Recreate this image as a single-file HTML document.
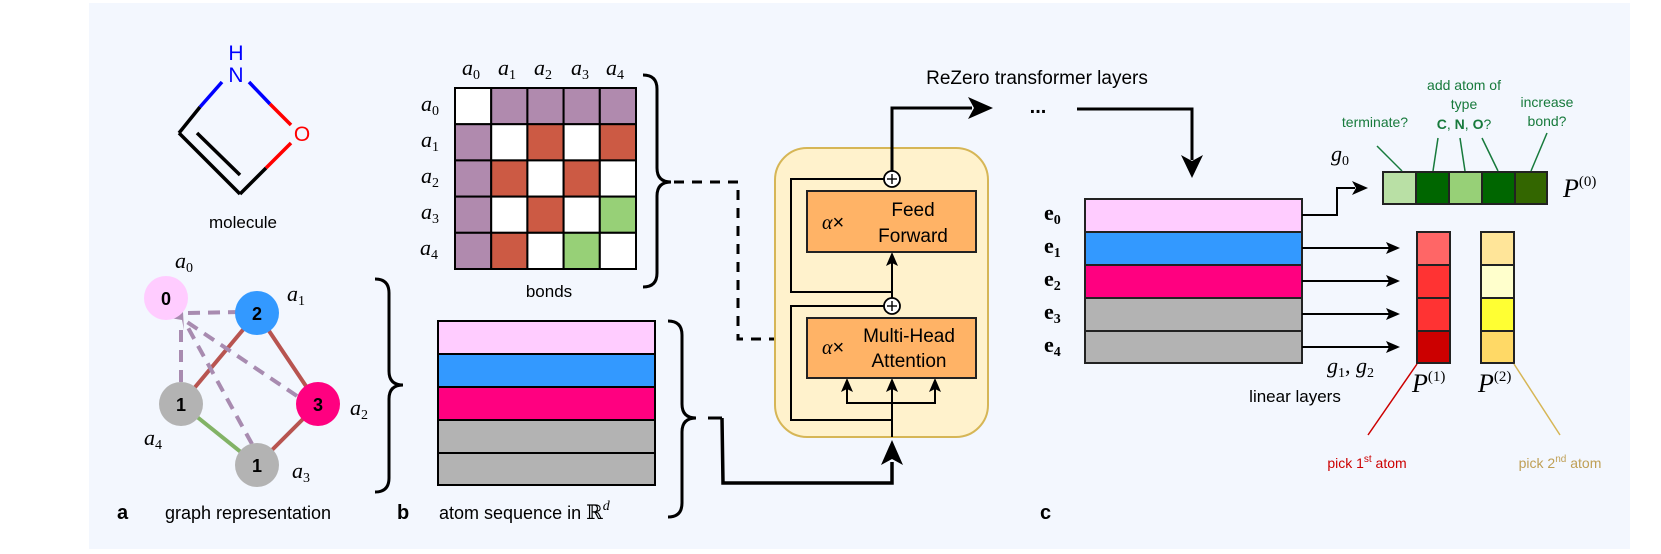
<!DOCTYPE html>
<html><head><meta charset="utf-8"><style>
html,body{margin:0;padding:0;background:#fff;}
svg{display:block;}
.s{font-family:"Liberation Sans",sans-serif;}
.m{font-family:"Liberation Serif",serif;font-style:italic;}
</style></head><body>
<svg width="1661" height="554" viewBox="0 0 1661 554" xmlns="http://www.w3.org/2000/svg">
<defs>
<marker id="ah" viewBox="0 0 10 10" refX="9" refY="5" markerWidth="7" markerHeight="7" orient="auto" markerUnits="userSpaceOnUse">
<path d="M0,0 L10,5 L0,10 L3,5 z" fill="#000"/></marker>
</defs>
<rect x="89" y="3" width="1541" height="546" fill="#f3f7fe"/>

<!-- molecule -->
<g stroke-width="3.5" fill="none" stroke-linecap="butt">
<line x1="222" y1="82" x2="200" y2="107" stroke="#0000ff"/>
<line x1="200" y1="107" x2="179" y2="133" stroke="#000"/>
<line x1="249" y1="82" x2="270" y2="104" stroke="#0000ff"/>
<line x1="270" y1="104" x2="291" y2="125" stroke="#ff0000"/>
<line x1="291" y1="143" x2="266" y2="168" stroke="#ff0000"/>
<line x1="266" y1="168" x2="240" y2="194" stroke="#000"/>
<line x1="179" y1="133" x2="240" y2="194" stroke="#000"/>
<line x1="197" y1="133" x2="240" y2="175" stroke="#000"/>
</g>
<text x="236" y="60" class="s" font-size="21" fill="#0000ff" text-anchor="middle">H</text>
<text x="236" y="82" class="s" font-size="21" fill="#0000ff" text-anchor="middle">N</text>
<text x="302" y="141" class="s" font-size="21" fill="#ff0000" text-anchor="middle">O</text>
<text x="243" y="228" class="s" font-size="17" text-anchor="middle">molecule</text>

<!-- graph -->
<g stroke-width="4" fill="none">
<line x1="257" y1="313" x2="181" y2="404" stroke="#b85450"/>
<line x1="257" y1="313" x2="318" y2="404" stroke="#b85450"/>
<line x1="318" y1="404" x2="257" y2="465" stroke="#b85450"/>
<line x1="181" y1="404" x2="257" y2="465" stroke="#82b366"/>
<g stroke="#a88bb0" stroke-dasharray="12 8">
<line x1="240" y1="312" x2="185" y2="313"/>
<line x1="297" y1="396" x2="187" y2="322"/>
<line x1="252" y1="444" x2="186" y2="324"/>
<line x1="181" y1="382" x2="181" y2="324"/>
</g>
<path d="M170,318 L183,312 L184,330 L182,320 z" fill="#a88bb0" stroke="none"/>
</g>
<circle cx="166" cy="298" r="22" fill="#ffccff"/>
<circle cx="257" cy="313" r="22" fill="#3399ff"/>
<circle cx="318" cy="404" r="22" fill="#ff0080"/>
<circle cx="181" cy="404" r="22" fill="#b3b3b3"/>
<circle cx="257" cy="465" r="22" fill="#b3b3b3"/>
<g class="s" font-size="18" font-weight="bold" text-anchor="middle">
<text x="166" y="305">0</text><text x="257" y="320">2</text><text x="318" y="411">3</text><text x="181" y="411">1</text><text x="257" y="472">1</text>
</g>
<g class="m" font-size="22">
<text x="175" y="268">a<tspan font-size="14" dy="4" font-style="normal">0</tspan></text>
<text x="287" y="301">a<tspan font-size="14" dy="4" font-style="normal">1</tspan></text>
<text x="350" y="415">a<tspan font-size="14" dy="4" font-style="normal">2</tspan></text>
<text x="292" y="478">a<tspan font-size="14" dy="4" font-style="normal">3</tspan></text>
<text x="144" y="445">a<tspan font-size="14" dy="4" font-style="normal">4</tspan></text>
</g>
<text x="117" y="519" class="s" font-size="20" font-weight="bold">a</text>
<text x="248" y="519" class="s" font-size="18" text-anchor="middle">graph representation</text>
<path d="M375,279 Q389,279 389,293 L389,371 Q389,385 403,385 Q389,385 389,399 L389,478 Q389,492 375,492" fill="none" stroke="#000" stroke-width="3"/>

<!-- matrix -->
<g stroke="#000" stroke-width="2">
<rect x="455" y="88" width="36.2" height="36.2" fill="#fff"/>
<rect x="491.2" y="88" width="36.2" height="36.2" fill="#b08aae"/>
<rect x="527.4" y="88" width="36.2" height="36.2" fill="#b08aae"/>
<rect x="563.6" y="88" width="36.2" height="36.2" fill="#b08aae"/>
<rect x="599.8" y="88" width="36.2" height="36.2" fill="#b08aae"/>
<rect x="455" y="124.2" width="36.2" height="36.2" fill="#b08aae"/>
<rect x="491.2" y="124.2" width="36.2" height="36.2" fill="#fff"/>
<rect x="527.4" y="124.2" width="36.2" height="36.2" fill="#cc5a44"/>
<rect x="563.6" y="124.2" width="36.2" height="36.2" fill="#fff"/>
<rect x="599.8" y="124.2" width="36.2" height="36.2" fill="#cc5a44"/>
<rect x="455" y="160.4" width="36.2" height="36.2" fill="#b08aae"/>
<rect x="491.2" y="160.4" width="36.2" height="36.2" fill="#cc5a44"/>
<rect x="527.4" y="160.4" width="36.2" height="36.2" fill="#fff"/>
<rect x="563.6" y="160.4" width="36.2" height="36.2" fill="#cc5a44"/>
<rect x="599.8" y="160.4" width="36.2" height="36.2" fill="#fff"/>
<rect x="455" y="196.6" width="36.2" height="36.2" fill="#b08aae"/>
<rect x="491.2" y="196.6" width="36.2" height="36.2" fill="#fff"/>
<rect x="527.4" y="196.6" width="36.2" height="36.2" fill="#cc5a44"/>
<rect x="563.6" y="196.6" width="36.2" height="36.2" fill="#fff"/>
<rect x="599.8" y="196.6" width="36.2" height="36.2" fill="#97d077"/>
<rect x="455" y="232.8" width="36.2" height="36.2" fill="#b08aae"/>
<rect x="491.2" y="232.8" width="36.2" height="36.2" fill="#cc5a44"/>
<rect x="527.4" y="232.8" width="36.2" height="36.2" fill="#fff"/>
<rect x="563.6" y="232.8" width="36.2" height="36.2" fill="#97d077"/>
<rect x="599.8" y="232.8" width="36.2" height="36.2" fill="#fff"/>
</g>
<g class="m" font-size="22">
<text x="462" y="75">a<tspan font-size="14" dy="4" font-style="normal">0</tspan></text>
<text x="498" y="75">a<tspan font-size="14" dy="4" font-style="normal">1</tspan></text>
<text x="534" y="75">a<tspan font-size="14" dy="4" font-style="normal">2</tspan></text>
<text x="571" y="75">a<tspan font-size="14" dy="4" font-style="normal">3</tspan></text>
<text x="606" y="75">a<tspan font-size="14" dy="4" font-style="normal">4</tspan></text>
<text x="421" y="111">a<tspan font-size="14" dy="4" font-style="normal">0</tspan></text>
<text x="421" y="147">a<tspan font-size="14" dy="4" font-style="normal">1</tspan></text>
<text x="421" y="183">a<tspan font-size="14" dy="4" font-style="normal">2</tspan></text>
<text x="421" y="219">a<tspan font-size="14" dy="4" font-style="normal">3</tspan></text>
<text x="420" y="255">a<tspan font-size="14" dy="4" font-style="normal">4</tspan></text>
</g>
<text x="549" y="297" class="s" font-size="17" text-anchor="middle">bonds</text>
<path d="M643,75 Q657,75 657,89 L657,168 Q657,182 671,182 Q657,182 657,196 L657,273 Q657,287 643,287" fill="none" stroke="#000" stroke-width="3"/>
<path d="M674,182 L738,182 L738,339 L790,339" fill="none" stroke="#000" stroke-width="3" stroke-dasharray="10 8"/>
<path d="M806,339 L786,329 L791,339 L786,349 z" fill="#000"/>

<!-- atom seq -->
<g stroke="#000" stroke-width="2">
<rect x="438" y="321" width="217" height="33" fill="#ffccff"/>
<rect x="438" y="354" width="217" height="33" fill="#3399ff"/>
<rect x="438" y="387" width="217" height="33" fill="#ff0080"/>
<rect x="438" y="420" width="217" height="33" fill="#b3b3b3"/>
<rect x="438" y="453" width="217" height="32" fill="#b3b3b3"/>
</g>
<text x="397" y="519" class="s" font-size="20" font-weight="bold">b</text>
<text x="439" y="519" class="s" font-size="18">atom sequence in <tspan font-family="DejaVu Serif" font-style="normal" font-size="20">ℝ</tspan><tspan class="m" font-family="Liberation Serif" font-style="italic" font-size="14" dy="-9">d</tspan></text>
<path d="M668,321 Q682,321 682,335 L682,404 Q682,418 696,418 Q682,418 682,432 L682,503 Q682,517 668,517" fill="none" stroke="#000" stroke-width="3"/>
<line x1="708" y1="418" x2="722" y2="418" stroke="#000" stroke-width="3"/>
<path d="M722,418 L723,483 L892,483 L892,462" fill="none" stroke="#000" stroke-width="3.5"/>
<path d="M892,440 L881,465 L892,459 L903,465 z" fill="#000"/>

<!-- transformer -->
<rect x="775" y="148" width="213" height="289" rx="32" fill="#fff2cc" stroke="#d6b656" stroke-width="2"/>
<g stroke="#000" stroke-width="2" fill="none">
<path d="M884,179 L791,179 L791,292 L892,292"/>
<path d="M884,306 L791,306 L791,420 L892,420"/>
<line x1="892" y1="437" x2="892" y2="386"/>
<path d="M847,386 L847,403 L935,403 L935,386"/>
<line x1="892" y1="298" x2="892" y2="260"/>
</g>
<g fill="#000">
<path d="M892,378 L886,392 L892,389 L898,392 z"/>
<path d="M847,378 L841,392 L847,389 L853,392 z"/>
<path d="M935,378 L929,392 L935,389 L941,392 z"/>
<path d="M892,252 L886,266 L892,263 L898,266 z"/>
</g>
<rect x="807" y="191" width="169" height="61" fill="#ffb366" stroke="#222" stroke-width="2"/>
<rect x="807" y="318" width="169" height="60" fill="#ffb366" stroke="#222" stroke-width="2"/>
<circle cx="892" cy="179" r="8" fill="#fff" stroke="#000" stroke-width="1.8"/>
<circle cx="892" cy="306" r="8" fill="#fff" stroke="#000" stroke-width="1.8"/>
<g stroke="#000" stroke-width="1.4"><line x1="887" y1="179" x2="897" y2="179"/><line x1="892" y1="174" x2="892" y2="184"/><line x1="887" y1="306" x2="897" y2="306"/><line x1="892" y1="301" x2="892" y2="311"/></g>
<text x="822" y="229" class="m" font-size="20">α<tspan font-style="normal" font-family="Liberation Sans">×</tspan></text>
<text x="913" y="216" class="s" font-size="19" text-anchor="middle">Feed</text>
<text x="913" y="242" class="s" font-size="19" text-anchor="middle">Forward</text>
<text x="822" y="354" class="m" font-size="20">α<tspan font-style="normal" font-family="Liberation Sans">×</tspan></text>
<text x="909" y="342" class="s" font-size="19" text-anchor="middle">Multi-Head</text>
<text x="909" y="367" class="s" font-size="19" text-anchor="middle">Attention</text>
<path d="M892,171 L892,108 L972,108" fill="none" stroke="#000" stroke-width="3"/>
<path d="M993,108 L968,97 L974,108 L968,119 z" fill="#000"/>
<text x="1038" y="113" class="s" font-size="20" font-weight="bold" text-anchor="middle">...</text>
<path d="M1077,109 L1192,109 L1192,160" fill="none" stroke="#000" stroke-width="3"/>
<path d="M1192,178 L1181,155 L1192,161 L1203,155 z" fill="#000"/>
<text x="1037" y="84" class="s" font-size="19" text-anchor="middle">ReZero transformer layers</text>

<!-- e stack -->
<g stroke="#222" stroke-width="2">
<rect x="1085" y="199" width="217" height="33" fill="#ffccff"/>
<rect x="1085" y="232" width="217" height="33" fill="#3399ff"/>
<rect x="1085" y="265" width="217" height="33" fill="#ff0080"/>
<rect x="1085" y="298" width="217" height="33" fill="#b3b3b3"/>
<rect x="1085" y="331" width="217" height="32" fill="#b3b3b3"/>
</g>
<g font-family="Liberation Serif" font-weight="bold" font-size="22">
<text x="1044" y="220">e<tspan font-size="14" dy="4">0</tspan></text>
<text x="1044" y="253">e<tspan font-size="14" dy="4">1</tspan></text>
<text x="1044" y="286">e<tspan font-size="14" dy="4">2</tspan></text>
<text x="1044" y="319">e<tspan font-size="14" dy="4">3</tspan></text>
<text x="1044" y="352">e<tspan font-size="14" dy="4">4</tspan></text>
</g>
<text x="1040" y="519" class="s" font-size="20" font-weight="bold">c</text>

<path d="M1302,215 L1337,215 L1337,188 L1355,188" fill="none" stroke="#000" stroke-width="2"/>
<path d="M1368,188 L1352,181 L1356,188 L1352,195 z" fill="#000"/>
<g stroke="#000" stroke-width="2">
<line x1="1302" y1="248" x2="1390" y2="248"/>
<line x1="1302" y1="281" x2="1390" y2="281"/>
<line x1="1302" y1="314" x2="1390" y2="314"/>
<line x1="1302" y1="347" x2="1390" y2="347"/>
</g>
<g fill="#000">
<path d="M1400,248 L1386,242 L1389,248 L1386,254 z"/>
<path d="M1400,281 L1386,275 L1389,281 L1386,287 z"/>
<path d="M1400,314 L1386,308 L1389,314 L1386,320 z"/>
<path d="M1400,347 L1386,341 L1389,347 L1386,353 z"/>
</g>
<text x="1331" y="161" class="m" font-size="22">g<tspan font-size="14" dy="4" font-style="normal">0</tspan></text>
<text x="1327" y="373" class="m" font-size="22">g<tspan font-size="14" dy="4" font-style="normal">1</tspan><tspan dy="-4" font-style="normal">, </tspan>g<tspan font-size="14" dy="4" font-style="normal">2</tspan></text>
<text x="1295" y="402" class="s" font-size="17" text-anchor="middle">linear layers</text>

<!-- P0 -->
<g stroke="#222" stroke-width="2">
<rect x="1383" y="172" width="33" height="32" fill="#b9e0a5"/>
<rect x="1416" y="172" width="33" height="32" fill="#006600"/>
<rect x="1449" y="172" width="33" height="32" fill="#97d077"/>
<rect x="1482" y="172" width="33" height="32" fill="#006600"/>
<rect x="1515" y="172" width="32" height="32" fill="#336600"/>
</g>
<text x="1563" y="197" class="m" font-size="26">P<tspan font-size="15" dy="-11" font-style="normal">(0)</tspan></text>
<g stroke="#177a3c" stroke-width="1.5">
<line x1="1377" y1="146" x2="1402" y2="171"/>
<line x1="1438" y1="138" x2="1433" y2="171"/>
<line x1="1460" y1="138" x2="1465" y2="171"/>
<line x1="1482" y1="138" x2="1498" y2="171"/>
<line x1="1547" y1="133" x2="1531" y2="171"/>
</g>
<g class="s" font-size="14" fill="#177a3c" text-anchor="middle">
<text x="1375" y="127">terminate?</text>
<text x="1464" y="90">add atom of</text>
<text x="1464" y="109">type</text>
<text x="1464" y="129"><tspan font-weight="bold">C</tspan>, <tspan font-weight="bold">N</tspan>, <tspan font-weight="bold">O</tspan>?</text>
<text x="1547" y="107">increase</text>
<text x="1547" y="126">bond?</text>
</g>

<!-- P1 P2 -->
<g stroke="#222" stroke-width="2">
<rect x="1417" y="232" width="33" height="33" fill="#ff6666"/>
<rect x="1417" y="265" width="33" height="33" fill="#ff3333"/>
<rect x="1417" y="298" width="33" height="33" fill="#ff3333"/>
<rect x="1417" y="331" width="33" height="32" fill="#cc0000"/>
<rect x="1481" y="232" width="33" height="33" fill="#ffe599"/>
<rect x="1481" y="265" width="33" height="33" fill="#ffffcc"/>
<rect x="1481" y="298" width="33" height="33" fill="#ffff33"/>
<rect x="1481" y="331" width="33" height="32" fill="#ffd966"/>
</g>
<text x="1412" y="392" class="m" font-size="26">P<tspan font-size="15" dy="-11" font-style="normal">(1)</tspan></text>
<text x="1478" y="392" class="m" font-size="26">P<tspan font-size="15" dy="-11" font-style="normal">(2)</tspan></text>
<line x1="1417" y1="364" x2="1368" y2="435" stroke="#cc0000" stroke-width="1.5"/>
<line x1="1514" y1="364" x2="1560" y2="435" stroke="#d6b656" stroke-width="1.5"/>
<text x="1367" y="468" class="s" font-size="14" fill="#cc0000" text-anchor="middle">pick 1<tspan font-size="10" dy="-6">st</tspan><tspan dy="6"> atom</tspan></text>
<text x="1560" y="468" class="s" font-size="14" fill="#bf9f55" text-anchor="middle">pick 2<tspan font-size="10" dy="-6">nd</tspan><tspan dy="6"> atom</tspan></text>
</svg>
</body></html>
